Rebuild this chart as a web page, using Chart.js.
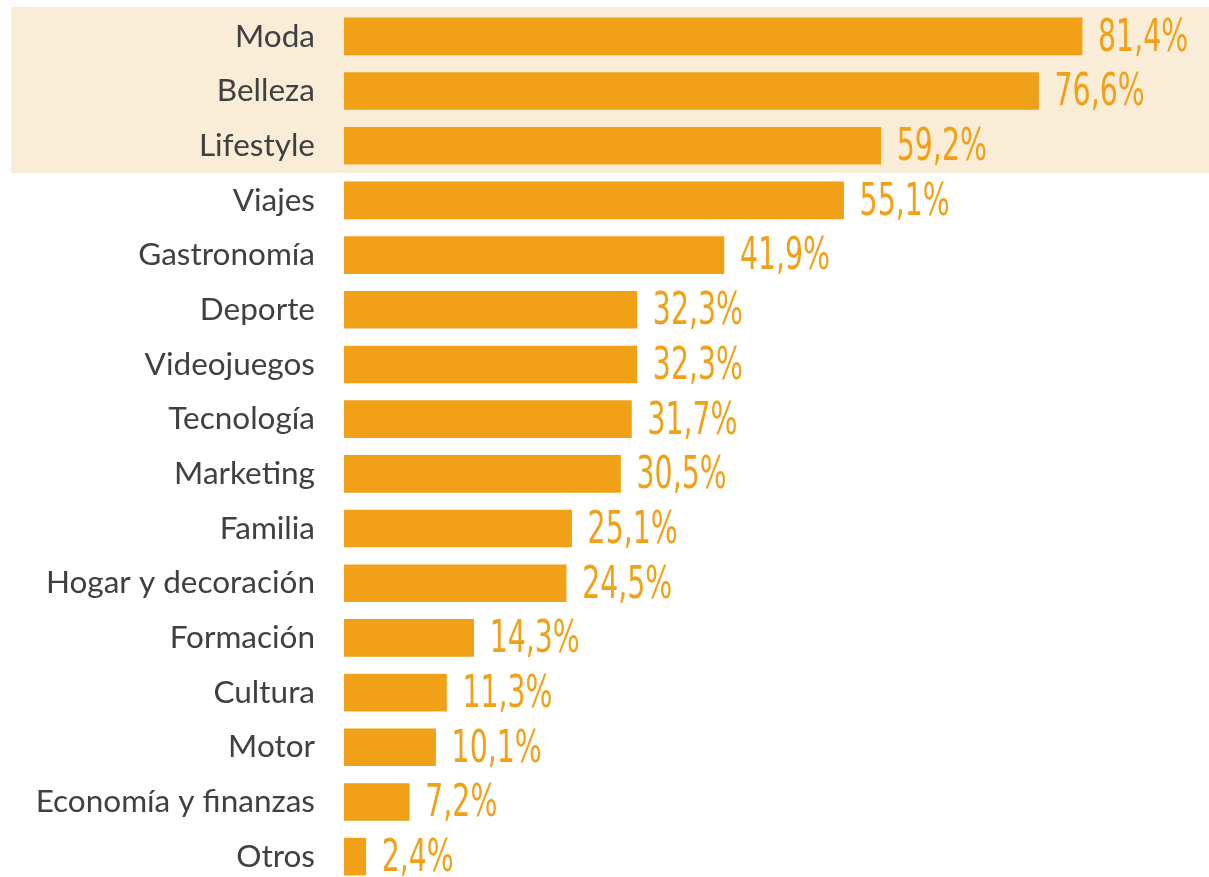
<!DOCTYPE html>
<html>
<head>
<meta charset="utf-8">
<script src="https://cdn.jsdelivr.net/npm/chart.js@4.4.1/dist/chart.umd.min.js"></script>
<style>
  html, body { margin: 0; padding: 0; background: #fff; overflow: hidden; }
  #wrap { position: relative; width: 1209px; height: 884px; }
</style>
</head>
<body>
<div id="wrap"><canvas id="bars"></canvas></div>
<script>
/* ===== DATA ===== */
const categories = [
  "Moda", "Belleza", "Lifestyle", "Viajes", "Gastronomía", "Deporte",
  "Videojuegos", "Tecnología", "Marketing", "Familia", "Hogar y decoración",
  "Formación", "Cultura", "Motor", "Economía y finanzas", "Otros"
];
const shares = [81.4, 76.6, 59.2, 55.1, 41.9, 32.3, 32.3, 31.7, 30.5, 25.1, 24.5, 14.3, 11.3, 10.1, 7.2, 2.4];
const highlightedRows = 3; // top 3 categories sit on the beige band

/* ===== HELPERS ===== */
function formatPct(v) {
  return v.toFixed(1).replace(".", ",") + "%";
}

const ORANGE = "#F0A118";
const BAND = "#FAEDD8";

// beige band behind the first rows
const bandPlugin = {
  id: "band",
  beforeDraw(chart) {
    const { ctx, chartArea } = chart;
    const rowH = (chartArea.bottom - chartArea.top) / categories.length;
    ctx.save();
    ctx.fillStyle = BAND;
    ctx.fillRect(11, chartArea.top - 2, chart.width - 11, rowH * highlightedRows + 2);
    ctx.restore();
  },
};

// value labels right of each bar, condensed look
const valuePlugin = {
  id: "values",
  afterDatasetsDraw(chart) {
    const { ctx } = chart;
    const meta = chart.getDatasetMeta(0);
    ctx.save();
    ctx.fillStyle = ORANGE;
    ctx.font = '38px "Liberation Sans Narrow", "DejaVu Sans Condensed", sans-serif';
    ctx.textAlign = "left";
    ctx.textBaseline = "middle";
    meta.data.forEach((bar, i) => {
      ctx.save();
      ctx.translate(bar.x + 16, bar.y + 3);
      ctx.scale(0.83, 1.15);
      ctx.fillText(formatPct(shares[i]), 0, 0);
      ctx.restore();
    });
    ctx.restore();
  },
};

/* ===== CHART ===== */
new Chart(document.getElementById("bars"), {
  type: "bar",
  data: {
    labels: categories,
    datasets: [
      {
        data: shares,
        backgroundColor: ORANGE,
        borderWidth: 0,
        barThickness: 37,
      },
    ],
  },
  options: {
    indexAxis: "y",
    responsive: true,
    maintainAspectRatio: false,
    animation: false,
    layout: { padding: { top: 9, right: 0, bottom: 0, left: 0 } },
    plugins: {
      legend: { display: false },
      tooltip: { enabled: false },
    },
    scales: {
      x: {
        display: false,
        min: 0,
        max: 95.4,
      },
      y: {
        grid: { display: false, drawTicks: false },
        border: { display: false },
        afterFit: (scale) => {
          scale.width = 344;
          // tick padding should not push the plot down
          scale.paddingTop = 0;
          scale.paddingBottom = 0;
        },
        ticks: {
          padding: 29,
          color: "#404040",
          font: { family: "Lato", size: 31.5 },
        },
      },
    },
  },
  plugins: [bandPlugin, valuePlugin],
});
</script>
</body>
</html>
